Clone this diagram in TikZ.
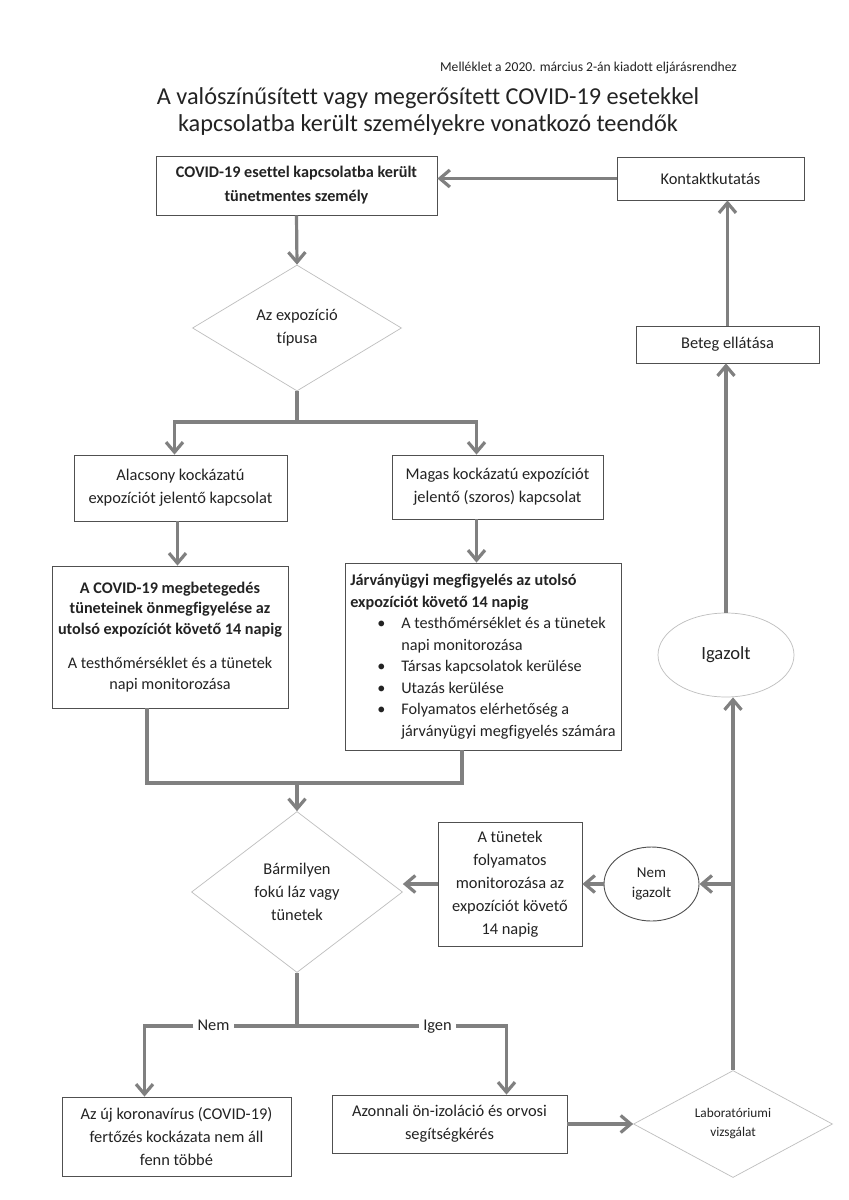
\documentclass[tikz,border=0pt]{standalone}
\usepackage{fontspec}
\setmainfont{Carlito}[Ligatures=CommonOff]
\usetikzlibrary{arrows.meta, shapes.geometric}

\definecolor{linegray}{RGB}{128,128,128}
\definecolor{boxgray}{RGB}{80,80,80}
\definecolor{diagray}{RGB}{190,190,190}
\definecolor{inkgray}{RGB}{35,35,35}

\newcommand\bodyfont{\fontsize{16.4}{23}\selectfont}
\newcommand\bul{\hspace*{27pt}\makebox[24pt][l]{\textbullet}}
\newcommand\ind{\hspace*{51pt}}

\begin{document}
\begin{tikzpicture}[x=1pt, y=-1pt,
    box/.style={draw=boxgray, line width=0.8pt, inner sep=0pt, align=center, font=\bodyfont, text=inkgray},
    decision/.style={diamond, draw=diagray, line width=0.7pt, inner sep=0pt, aspect=1.5, align=center, font=\bodyfont, text=inkgray},
    oval/.style={ellipse, inner sep=0pt, align=center, text=inkgray},
    flow/.style={draw=linegray, line width=3.2pt},
    arr/.style={flow, -{Straight Barb[length=10pt, width=17pt]}},
    lbl/.style={font=\bodyfont, text=inkgray, inner sep=4pt, text height=11pt, text depth=3pt}]

    % Page
    \fill[white] (0,0) rectangle (849,1200);
    \useasboundingbox (0,0) rectangle (849,1200);

    % Heading
    \node[anchor=east, font=\fontsize{13.6}{16}\selectfont, text=inkgray, inner sep=0pt] (annex) at (737,68) {Melléklet a 2020. március 2-án kiadott eljárásrendhez};
    \node[align=center, font=\fontsize{24.3}{27}\selectfont, text=inkgray, inner sep=0pt] (title) at (428,112) {A valószínűsített vagy megerősített COVID-19 esetekkel\\ kapcsolatba került személyekre vonatkozó teendők};

    % Upper part
    \node[box, minimum width=281pt, minimum height=59pt, font=\fontsize{16.2}{24}\selectfont\bfseries] (contact) at (296.5,185.5) {COVID-19 esettel kapcsolatba került\\ tünetmentes személy};
    \node[box, minimum width=187pt, minimum height=43pt] (tracing) at (710.5,178.5) {Kontaktkutatás};
    \node[box, minimum width=183pt, minimum height=37pt] (care) at (727.5,344.5) {Beteg ellátása};
    \node[decision, minimum width=209pt, minimum height=126pt] (exptype) at (297,328) {Az expozíció\\ típusa};
    \coordinate (split) at (297,422);

    % Two kinds of exposure
    \node[box, minimum width=213pt, minimum height=66pt] (low) at (180.5,488) {Alacsony kockázatú\\ expozíciót jelentő kapcsolat};
    \node[box, minimum width=211pt, minimum height=64pt] (high) at (497.5,487) {Magas kockázatú expozíciót\\ jelentő (szoros) kapcsolat};
    \node[box, minimum width=236pt, minimum height=142pt, font=\fontsize{16.2}{20.5}\selectfont] (selfmon) at (170,637) {\textbf{A COVID-19 megbetegedés}\\ \textbf{tüneteinek önmegfigyelése az}\\ \textbf{utolsó expozíciót követő 14 napig}\\[14pt] A testhőmérséklet és a tünetek\\ napi monitorozása};
    \node[box, minimum width=276pt, minimum height=187pt, align=left, font=\fontsize{16.2}{21.5}\selectfont] (watch) at (483,656.5) {\textbf{Járványügyi megfigyelés az utolsó}\\ \textbf{expozíciót követő 14 napig}\\ \bul A testhőmérséklet és a tünetek\\ \ind napi monitorozása\\ \bul Társas kapcsolatok kerülése\\ \bul Utazás kerülése\\ \bul Folyamatos elérhetőség a\\ \ind járványügyi megfigyelés számára};
    \node[oval, draw=diagray, line width=0.7pt, minimum width=136pt, minimum height=84pt, font=\fontsize{18.6}{22}\selectfont] (confirmed) at (726,655) {Igazolt};
    \coordinate (merge) at (297,783);

    % Symptoms
    \node[decision, minimum width=211pt, minimum height=161pt] (fever) at (297,892) {Bármilyen\\ fokú láz vagy\\ tünetek};
    \node[box, minimum width=144pt, minimum height=124pt] (follow) at (510,884) {A tünetek\\ folyamatos\\ monitorozása az\\ expozíciót követő\\ 14 napig};
    \node[oval, draw=boxgray, line width=0.9pt, minimum width=95pt, minimum height=74pt, font=\fontsize{15}{20}\selectfont] (notconf) at (651.5,884) {Nem\\ igazolt};
    \coordinate (split2) at (297,1026);

    % Lower part
    \node[lbl] (no) at (213.5,1026) {Nem};
    \node[lbl] (yes) at (437.5,1026) {Igen};
    \node[box, minimum width=229pt, minimum height=79pt] (norisk) at (176.5,1136.5) {Az új koronavírus (COVID-19)\\ fertőzés kockázata nem áll\\ fenn többé};
    \node[box, minimum width=235pt, minimum height=58pt] (isolate) at (449.5,1124) {Azonnali ön-izoláció és orvosi\\ segítségkérés};
    \node[decision, aspect=2, minimum width=199pt, minimum height=107pt, font=\fontsize{13.3}{19}\selectfont] (lab) at (733,1124) {Laboratóriumi\\ vizsgálat};

    % Connectors
    \draw[arr] (contact.south) -- (exptype.north);
    \draw[flow] (exptype.south) -- (split);
    \draw[arr] (split) -| ([xshift=-6pt]low.north);
    \draw[arr] (split) -| ([xshift=-21pt]high.north);
    \draw[arr] ([xshift=-3pt]low.south) -- ([xshift=-3pt]low.south |- selfmon.north);
    \draw[arr] ([xshift=-21pt]high.south) -- ([xshift=-21pt]high.south |- watch.north);
    \draw[flow] ([xshift=-23pt]selfmon.south) |- (merge) -| ([xshift=-21pt]watch.south);
    \draw[arr] (merge) -- (fever.north);
    \draw[flow] (fever.south) -- (split2);
    \draw[flow] (split2) -- (split2 -| no.east);
    \draw[arr] (no.west) -| ([xshift=-32pt]norisk.north);
    \draw[flow] (split2) -- (split2 -| yes.west);
    \draw[arr] (yes.east) -| ([xshift=57pt]isolate.north);
    \draw[arr] (isolate.east) -- (lab.west);
    \draw[arr] (lab.north) -- (lab.north |- confirmed.south);
    \draw[arr] (notconf.east -| lab.north) -- (notconf.east);
    \draw[arr] (notconf.west) -- (follow.east);
    \draw[arr] (follow.west) -- (follow.west -| fever.east);
    \draw[arr] (confirmed.north) -- (confirmed.north |- care.south);
    \draw[arr] (care.north) -- (care.north |- tracing.south);
    \draw[arr] (tracing.west) -- (tracing.west -| contact.east);
\end{tikzpicture}
\end{document}
